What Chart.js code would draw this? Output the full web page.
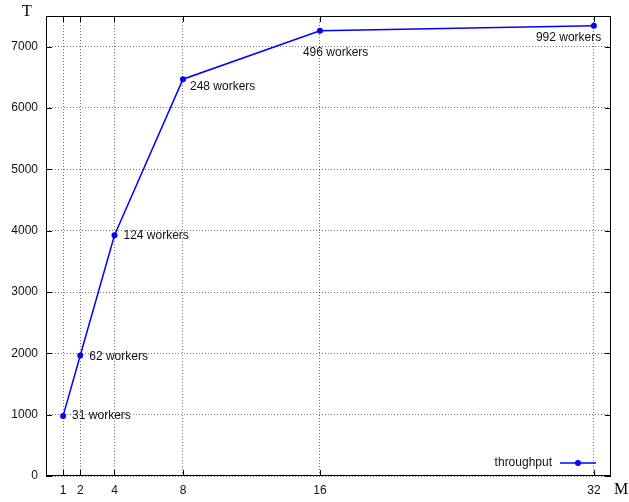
<!DOCTYPE html>
<html>
<head>
<meta charset="utf-8">
<script src="https://cdn.jsdelivr.net/npm/chart.js@4"></script>
<style>
  html, body { margin: 0; padding: 0; background: #fff; }
  #wrap { width: 629px; height: 502px; }
</style>
</head>
<body>
<div id="wrap"><canvas id="chart" width="629" height="502"></canvas></div>
<script>
// data
const machines = [1, 2, 4, 8, 16, 32];
const throughput = [980, 1965, 3925, 6470, 7260, 7340];
const workerLabels = ['31 workers', '62 workers', '124 workers', '248 workers', '496 workers', '992 workers'];
const xTicks = [1, 2, 4, 8, 16, 32];
const yTicks = [0, 1000, 2000, 3000, 4000, 5000, 6000, 7000];
const seriesName = 'throughput';

const BLUE = '#0000ff';
const FONT = '"Liberation Sans", Arial, sans-serif';

// where each point label sits relative to its point
const labelOffsets = [[9, 0], [9, 1], [9, 0], [7, 8], [-17, 22], [-58, 12]];

// gnuplot-like frame, inner ticks, labels, legend
const framePlugin = {
  id: 'frame',
  afterDraw(chart) {
    const ctx = chart.ctx;
    const a = chart.chartArea;
    const xs = chart.scales.x, ys = chart.scales.y;
    ctx.save();

    // border
    ctx.strokeStyle = '#000';
    ctx.lineWidth = 1;
    ctx.strokeRect(a.left + 0.5, a.top + 0.5, a.right - a.left - 1, a.bottom - a.top - 1);

    // inward ticks
    ctx.beginPath();
    xTicks.forEach(v => {
      const x = Math.round(xs.getPixelForValue(v)) + 0.5;
      ctx.moveTo(x, a.bottom); ctx.lineTo(x, a.bottom - 6);
      ctx.moveTo(x, a.top); ctx.lineTo(x, a.top + 6);
    });
    yTicks.forEach(v => {
      const y = Math.round(ys.getPixelForValue(v)) + 0.5;
      ctx.moveTo(a.left, y); ctx.lineTo(a.left + 6, y);
      ctx.moveTo(a.right, y); ctx.lineTo(a.right - 6, y);
    });
    ctx.stroke();

    // point labels
    const meta = chart.getDatasetMeta(0);
    ctx.fillStyle = '#111';
    ctx.font = '12px ' + FONT;
    ctx.textAlign = 'left';
    ctx.textBaseline = 'middle';
    meta.data.forEach((pt, i) => {
      const [dx, dy] = labelOffsets[i];
      ctx.fillText(workerLabels[i], pt.x + dx, pt.y + dy);
    });

    // legend
    ctx.textAlign = 'right';
    ctx.fillText(seriesName, 552, 463);
    ctx.strokeStyle = BLUE;
    ctx.lineWidth = 1.5;
    ctx.beginPath();
    ctx.moveTo(560, 463); ctx.lineTo(596, 463);
    ctx.stroke();
    ctx.fillStyle = BLUE;
    ctx.beginPath();
    ctx.arc(578, 463, 3, 0, Math.PI * 2);
    ctx.fill();

    // axis titles
    ctx.fillStyle = '#000';
    ctx.font = '16px "Liberation Serif", "Times New Roman", serif';
    ctx.textAlign = 'center';
    ctx.fillText('T', 27, 12);
    ctx.fillText('M', 621, 490);
    ctx.restore();
  }
};

const ctx = document.getElementById('chart').getContext('2d');
new Chart(ctx, {
  type: 'line',
  data: {
    datasets: [{
      label: seriesName,
      data: machines.map((m, i) => ({ x: m, y: throughput[i] })),
      borderColor: BLUE,
      backgroundColor: BLUE,
      borderWidth: 1.5,
      pointRadius: 3,
      pointBackgroundColor: BLUE,
      pointBorderWidth: 0,
      tension: 0,
      fill: false
    }]
  },
  options: {
    responsive: false,
    animation: false,
    devicePixelRatio: 1,
    layout: { padding: { top: 16, right: 18, left: 0, bottom: 0 } },
    plugins: {
      legend: { display: false },
      tooltip: { enabled: false }
    },
    scales: {
      x: {
        type: 'linear',
        min: 0,
        max: 33,
        afterBuildTicks: s => { s.ticks = xTicks.map(v => ({ value: v })); },
        afterFit: s => { s.height = 26; },
        ticks: { color: '#111', font: { size: 12, family: FONT }, padding: 7, maxRotation: 0, autoSkip: false, callback: v => String(v) },
        grid: { color: 'rgba(0,0,0,0.55)', lineWidth: 1, drawTicks: false },
        border: { display: false, dash: [1, 2] }
      },
      y: {
        min: 0,
        max: 7500,
        afterBuildTicks: s => { s.ticks = yTicks.map(v => ({ value: v })); },
        afterFit: s => { s.width = 46; },
        ticks: { color: '#111', font: { size: 12, family: FONT }, padding: 8, callback: v => String(v) },
        grid: { color: 'rgba(0,0,0,0.55)', lineWidth: 1, drawTicks: false },
        border: { display: false, dash: [1, 2] }
      }
    }
  },
  plugins: [framePlugin]
});
</script>
</body>
</html>
